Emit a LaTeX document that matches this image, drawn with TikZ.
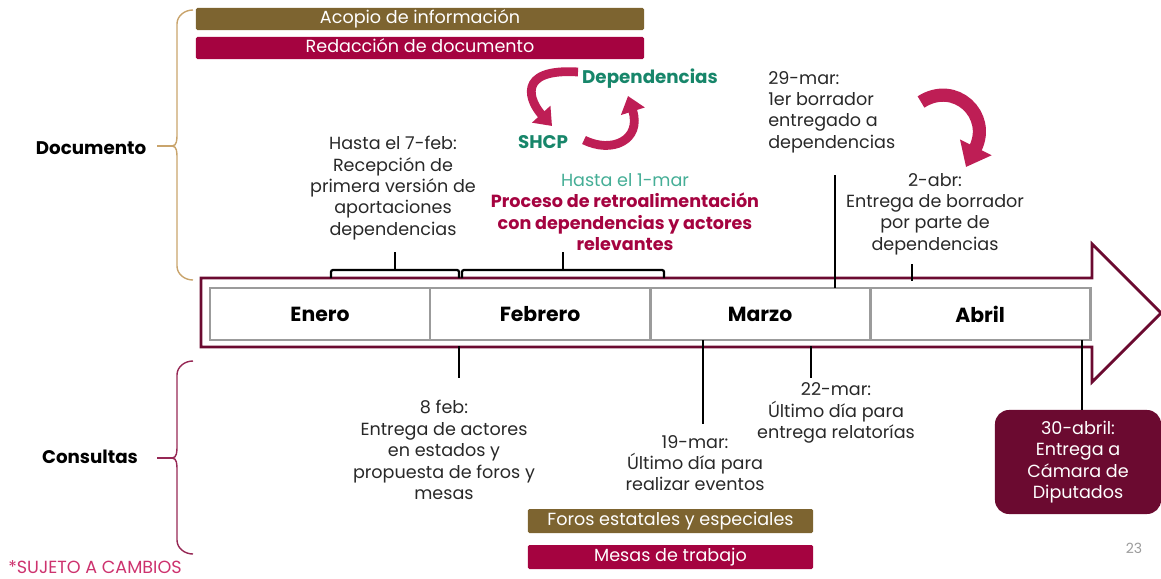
\documentclass[tikz,border=0pt]{standalone}
\usepackage{fontspec}
\setmainfont{Poppins}
\usepackage{xcolor}
\usetikzlibrary{calc, arrows.meta, positioning}
\definecolor{olivo}{RGB}{125, 100, 48}
\definecolor{guinda}{RGB}{165, 3, 64}
\definecolor{vino}{RGB}{107, 10, 48}
\definecolor{verde}{RGB}{23, 134, 106}
\definecolor{verdeclaro}{RGB}{69, 174, 150}
\definecolor{dorado}{RGB}{201, 164, 108}
\definecolor{llave}{RGB}{150, 40, 85}
\definecolor{rosa}{RGB}{190, 30, 85}
\definecolor{nota}{RGB}{205, 50, 110}
\definecolor{gris}{RGB}{155, 155, 155}
\definecolor{texto}{RGB}{40, 40, 40}
\tikzset{
    every node/.style = {font=\fontsize{12.5}{15.2}\selectfont},
    barnode/.style = {rectangle, rounded corners=0.1em, text=white, inner sep=0em, 
      text height=8pt, text depth=2pt, minimum height=0.55cm},
    monthnode/.style = {draw=gris, line width=2pt, fill=white, rectangle, inner sep=0em, outer sep=0em, 
      minimum width=5.5cm, minimum height=1.3cm, font=\fontsize{14.5}{16}\selectfont\bfseries},
    textnode/.style = {draw=none, fill=none, rectangle, inner sep=0em, align=center, text=texto},
    sidenode/.style = {draw=none, fill=none, rectangle, inner sep=0em, 
      font=\fontsize{13}{15}\selectfont\bfseries},
    boxnode/.style = {rectangle, rounded corners=0.35cm, fill=vino, text=white, inner sep=0em, 
      align=center, minimum width=4.15cm, minimum height=2.6cm},
    tick/.style = {black, line width=1.8pt},
    bracket/.style = {black, line width=1.6pt, rounded corners=0.05cm},
    sidebrace/.style = {line width=1pt},
    curvearrow/.style = {rosa, line width=0.22cm, -{Triangle[width=0.6cm, length=0.4cm]}}
}

\begin{document}
\begin{tikzpicture}[x=0.025cm, y=-0.025cm]
\useasboundingbox (0,0) rectangle (1161,578);

\node[barnode, name=acopio, fill=olivo, minimum width=11.2cm] at (420,19) {Acopio de información};
\node[barnode, name=redaccion, fill=guinda, minimum width=11.2cm] at (420,48) {Redacción de documento};
\node[barnode, name=foros, fill=olivo, minimum width=7.125cm, minimum height=0.6cm] at (670.5,521) {Foros estatales y especiales};
\node[barnode, name=mesas, fill=guinda, minimum width=7.125cm, minimum height=0.6cm] at (670.5,557) {Mesas de trabajo};

\draw[vino, line width=2pt] (201,278) -- (1092,278) -- (1092,244) -- (1161,313) -- (1092,382) 
  -- (1092,347) -- (201,347) -- cycle;

\node[monthnode, name=enero] at (320,314) {Enero};
\node[monthnode, name=febrero, right=0em of enero] {Febrero};
\node[monthnode, name=marzo, right=0em of febrero] {Marzo};
\node[monthnode, name=abril, right=0em of marzo] {Abril};

\node[sidenode, name=documento] at (91,148) {Documento};
\node[sidenode, name=consultas] at (90,457) {Consultas};
\draw[sidebrace, dorado] (193,10) to[out=180, in=90] (177,24) -- (177,134) to[out=-90, in=0] (172,146) 
  to[out=0, in=90] (177,158) -- (177,266) to[out=-90, in=180] (193,280);
\draw[sidebrace, dorado] (172,146) -- (157,146);
\draw[sidebrace, llave] (193,361) to[out=180, in=90] (177,375) -- (177,446) to[out=-90, in=0] (172,458) 
  to[out=0, in=90] (177,470) -- (177,540) to[out=-90, in=180] (193,554);
\draw[sidebrace, llave] (172,458) -- (157,458);

\node[textnode, name=hasta7] at (393,188) {Hasta el 7-feb:\\Recepción de\\primera versión de\\aportaciones\\dependencias};
\node[textnode, name=shcp, text=verde, font=\fontsize{13}{15}\selectfont\bfseries] at (543,142) {SHCP};
\node[textnode, name=dependencias, text=verde, font=\fontsize{13}{15}\selectfont\bfseries] at (650,79) {Dependencias};
\node[textnode, name=proceso, text=guinda] at (625,212) {{\color{verdeclaro}Hasta el 1-mar}\\\textbf{Proceso de retroalimentación}\\
  \textbf{con dependencias y actores}\\\textbf{relevantes}};
\node[textnode, name=borrador, anchor=west, align=left] at (768,112) {29-mar:\\1er borrador\\entregado a\\dependencias};
\node[textnode, name=abr2] at (935,214) {2-abr:\\Entrega de borrador\\por parte de\\dependencias};
\node[textnode, name=feb8] at (444,450) {8 feb:\\Entrega de actores\\en estados y\\propuesta de foros y\\mesas};
\node[textnode, name=mar19] at (695,463) {19-mar:\\Último día para\\realizar eventos};
\node[textnode, name=mar22] at (836,413) {22-mar:\\Último día para\\entrega relatorías};
\node[boxnode, name=camara] at (1078,462) {30-abril:\\Entrega a\\Cámara de\\Diputados};
\node[textnode, name=pagina, text=gris, font=\fontsize{10}{12}\selectfont] at (1134,548) {23};
\node[textnode, name=sujeto, text=nota, anchor=west] at (8,567) {*SUJETO A CAMBIOS};

\draw[curvearrow] (578,72) .. controls (515,68) and (530,102) .. (552,126);
\draw[curvearrow] (584,140) .. controls (612,154) and (642,140) .. (628,96);
\draw[curvearrow, line width=0.33cm, -{Triangle[width=0.85cm, length=0.55cm]}] 
  (921,102) .. controls (955,80) and (992,115) .. (966,167);

\draw[bracket] (331,278) -- (331,270) -- (459,270) -- (459,278);
\draw[bracket] (395,270) -- (395,252);
\draw[bracket] (462,278) -- (462,270) -- (664,270) -- (664,278);
\draw[bracket] (563,270) -- (563,252);

\coordinate (t29) at (835,175);
\coordinate (t2) at (912,264);
\coordinate (t8) at (459,378);
\coordinate (t19) at (703,424);
\coordinate (t22) at (811,378);
\coordinate (t30) at (1082,408);
\draw[tick] (t29) -- (t29 |- marzo.north);
\draw[tick] (t2) -- (912,281);
\draw[tick] (febrero.south -| t8) ++(0,6) -- (t8);
\draw[tick] (marzo.south -| t19) -- (t19);
\draw[tick] (marzo.south -| t22) ++(0,6) -- (t22);
\draw[tick] (abril.south -| t30) -- (camara.north -| t30);
\end{tikzpicture}
\end{document}
